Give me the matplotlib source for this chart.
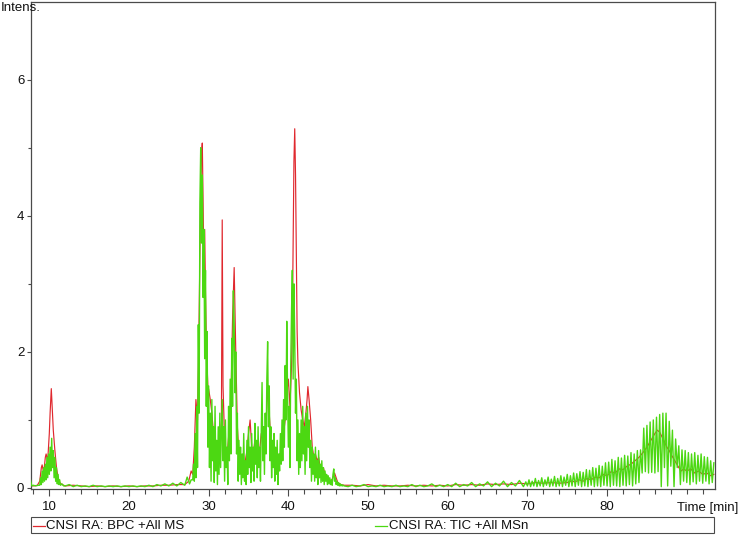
import matplotlib
matplotlib.use("Agg")
import matplotlib.pyplot as plt
from matplotlib.patches import Rectangle
from matplotlib.lines import Line2D
from matplotlib.ticker import FixedLocator

plt.rcParams['font.family'] = ['Liberation Sans', 'DejaVu Sans']

# ---------------- data ----------------
series_labels = ["CNSI RA: BPC +All MS", "CNSI RA: TIC +All MSn"]
x_ticks = [10, 20, 30, 40, 50, 60, 70, 80]
y_ticks = [0, 2, 4, 6]
x_label = "Time [min]"
y_label = "Intens."

# BPC trace (red)
red_time = [
    7.6, 8.0, 8.5, 8.8, 9.0, 9.1, 9.3, 9.5, 9.6, 9.8,
    10.0, 10.1, 10.25, 10.4, 10.5, 10.7, 10.9, 11.1, 11.3, 11.6,
    12, 13, 14, 15, 16, 17, 18, 19, 20, 21,
    22, 23, 24, 25, 26, 27, 27.5, 27.8,
    28.0, 28.2, 28.4, 28.6, 28.8, 29.0, 29.1, 29.2, 29.3, 29.4,
    29.5, 29.6, 29.7, 29.8, 29.9, 30.0, 30.2, 30.4, 30.6, 30.8,
    31.0, 31.2, 31.4, 31.6, 31.7, 31.8, 32.0, 32.2, 32.4, 32.6,
    32.8, 33.0, 33.2, 33.3, 33.4, 33.6, 33.8, 34.0, 34.2, 34.4,
    34.6, 34.8, 35.0, 35.2, 35.4, 35.6, 35.8, 36.0, 36.2, 36.4,
    36.6, 36.8, 37.0, 37.2, 37.4, 37.6, 37.8, 38.0, 38.2, 38.4,
    38.6, 38.8, 39.0, 39.2, 39.4, 39.6, 39.8, 40.0, 40.2, 40.4,
    40.5, 40.6, 40.7, 40.8, 40.9, 41.0, 41.1, 41.2, 41.4, 41.6,
    41.8, 42.0, 42.2, 42.35, 42.45, 42.6, 42.8, 43.0, 43.2, 43.4,
    43.6, 43.8, 44.0, 44.2, 44.4, 44.6, 44.8, 45.0, 45.4, 45.8,
    46.2, 46.6, 47.0,
    48, 49, 50, 51, 52, 53, 54, 55, 56, 57,
    58, 59, 60, 61, 62, 63, 64, 65, 66, 67,
    68, 69, 70, 71, 72, 73, 74,
    75.0, 75.5, 76.0, 76.5, 77.0, 77.5, 78.0, 78.5, 79.0, 79.5,
    80.0, 80.5, 81.0, 81.5, 82.0, 82.5, 83.0, 83.5, 84.0, 84.5,
    85.0, 85.5, 86.0,
    86.3, 86.6, 86.9, 87.2, 87.5, 87.8, 88.1, 88.4, 88.7, 89.0, 89.3, 89.6,
    90.0, 90.5, 91.0, 91.5, 92.0, 92.5, 93.0, 93.4,
]
red_intensity = [
    0.04, 0.03, 0.04, 0.10, 0.30, 0.34, 0.22, 0.45, 0.50, 0.40,
    0.80, 1.10, 1.46, 1.10, 0.85, 0.55, 0.30, 0.15, 0.08, 0.05,
    0.03, 0.04, 0.03, 0.02, 0.03, 0.02, 0.03, 0.02, 0.03, 0.02,
    0.03, 0.03, 0.04, 0.04, 0.05, 0.05, 0.10, 0.25,
    0.20, 0.60, 1.30, 1.00, 2.50, 4.40, 4.90, 5.07, 4.20, 3.20,
    3.80, 2.90, 2.20, 1.80, 1.50, 1.45, 1.30, 1.10, 0.80, 0.60,
    0.40, 0.30, 0.50, 1.00, 3.94, 1.50, 0.70, 0.40, 0.60, 0.90,
    1.30, 2.50, 3.24, 2.60, 2.00, 0.90, 0.50, 0.30, 0.35, 0.25,
    0.40, 0.55, 0.80, 1.00, 0.60, 0.50, 0.70, 0.60, 0.40, 0.55,
    0.80, 0.70, 0.60, 0.90, 1.50, 1.10, 0.70, 0.40, 0.35, 0.30,
    0.25, 0.35, 0.45, 0.60, 0.80, 1.00, 1.40, 1.60, 1.20, 1.80,
    2.40, 3.60, 4.80, 5.28, 4.60, 3.40, 2.30, 1.84, 1.40, 1.15,
    1.00, 0.90, 1.10, 1.30, 1.49, 1.30, 1.00, 0.60, 0.45, 0.50,
    0.40, 0.45, 0.30, 0.25, 0.30, 0.20, 0.15, 0.12, 0.10, 0.22,
    0.08, 0.05, 0.04,
    0.04, 0.03, 0.05, 0.03, 0.04, 0.03, 0.03, 0.04, 0.03, 0.04,
    0.03, 0.04, 0.03, 0.05, 0.04, 0.05, 0.04, 0.06, 0.05, 0.06,
    0.05, 0.07, 0.06, 0.08, 0.07, 0.08, 0.07,
    0.08, 0.10, 0.09, 0.12, 0.10, 0.14, 0.12, 0.16, 0.15, 0.20,
    0.18, 0.24, 0.22, 0.28, 0.27, 0.32, 0.35, 0.40, 0.45, 0.52,
    0.60, 0.70, 0.80,
    0.85, 0.82, 0.75, 0.68, 0.60, 0.55, 0.48, 0.42, 0.36, 0.30, 0.25, 0.28,
    0.25, 0.28, 0.22, 0.25, 0.20, 0.22, 0.18, 0.20,
]

# TIC trace (green)
green_time = [
    7.6, 7.8, 8.0, 8.3, 8.6, 8.8, 8.9, 9.0, 9.1, 9.2,
    9.3, 9.4, 9.5, 9.6, 9.7, 9.8, 9.9, 10.0, 10.1, 10.2,
    10.3, 10.4, 10.5, 10.6, 10.7, 10.8, 10.9, 11.0, 11.1, 11.2,
    11.3, 11.4, 11.6, 11.8,
    12.0, 12.5, 13.0, 13.5, 14.0, 14.5, 15.0, 15.5, 16.0, 16.5,
    17.0, 17.5, 18.0, 18.5, 19.0, 19.5, 20.0, 20.5, 21.0, 21.5,
    22.0, 22.5, 23.0, 23.5, 24.0, 24.5, 25.0, 25.5, 26.0, 26.5,
    27.0, 27.3, 27.6, 27.8,
    28.0, 28.1, 28.2, 28.3, 28.4, 28.5, 28.6, 28.7, 28.8, 28.9,
    29.0, 29.1, 29.2, 29.3, 29.4, 29.5, 29.6, 29.7, 29.8, 29.9,
    30.0, 30.1, 30.2, 30.3, 30.4, 30.5, 30.6, 30.7, 30.8, 30.9,
    31.0, 31.1, 31.2, 31.3, 31.4, 31.5, 31.6, 31.7, 31.8, 31.9,
    32.0, 32.1, 32.2, 32.3, 32.4, 32.5, 32.6, 32.7, 32.8, 32.9,
    33.0, 33.1, 33.2, 33.3, 33.4, 33.5, 33.6, 33.7, 33.8, 33.9,
    34.0, 34.1, 34.2, 34.3, 34.4, 34.5, 34.6, 34.7, 34.8, 34.9,
    35.0, 35.1, 35.2, 35.3, 35.4, 35.5, 35.6, 35.7, 35.8, 35.9,
    36.0, 36.1, 36.2, 36.3, 36.4, 36.5, 36.6, 36.7, 36.8, 36.9,
    37.0, 37.1, 37.2, 37.3, 37.4, 37.5, 37.6, 37.7, 37.8, 37.9,
    38.0, 38.1, 38.2, 38.3, 38.4, 38.5, 38.6, 38.7, 38.8, 38.9,
    39.0, 39.1, 39.2, 39.3, 39.4, 39.5, 39.6, 39.7, 39.8, 39.9,
    40.0, 40.1, 40.2, 40.3, 40.4, 40.5, 40.6, 40.7, 40.8, 40.9,
    41.0, 41.1, 41.2, 41.3, 41.4, 41.5, 41.6, 41.7, 41.8, 41.9,
    42.0, 42.1, 42.2, 42.3, 42.4, 42.5, 42.6, 42.7, 42.8, 42.9,
    43.0, 43.1, 43.2, 43.3, 43.4, 43.5, 43.6, 43.7, 43.8, 43.9,
    44.0, 44.1, 44.2, 44.3, 44.4, 44.5, 44.6, 44.7, 44.8, 44.9,
    45.0, 45.1, 45.2, 45.3, 45.4, 45.5, 45.6, 45.7, 45.8, 45.9,
    46.0, 46.1, 46.2, 46.3, 46.4, 46.5, 46.6, 46.7, 46.8, 46.9,
    47.0,
    47.5, 48.0, 48.5, 49.0, 49.5, 50.0, 50.5, 51.0, 51.5, 52.0,
    52.5, 53.0, 53.5, 54.0, 54.5, 55.0, 55.5, 56.0, 56.5, 57.0,
    57.5, 58.0, 58.5, 59.0, 59.5, 60.0, 60.5, 61.0, 61.5, 62.0,
    62.5, 63.0, 63.5, 64.0, 64.5, 65.0, 65.5, 66.0, 66.5, 67.0,
    67.5, 68.0, 68.5, 69.0, 69.5, 69.8,
    70.0, 70.2, 70.4, 70.6, 70.8, 71.0, 71.2, 71.4, 71.6, 71.8,
    72.0, 72.2, 72.4, 72.6, 72.8, 73.0, 73.2, 73.4, 73.6, 73.8,
    74.0, 74.2, 74.4, 74.6, 74.8, 75.0, 75.2, 75.4, 75.6, 75.8,
    76.0, 76.2, 76.4, 76.6, 76.8, 77.0, 77.2, 77.4, 77.6, 77.8,
    78.0, 78.2, 78.4, 78.6, 78.8, 79.0, 79.2, 79.4, 79.6, 79.8,
    80.0, 80.2, 80.4, 80.6, 80.8, 81.0, 81.2, 81.4, 81.6, 81.8,
    82.0, 82.2, 82.4, 82.6, 82.8, 83.0, 83.2, 83.4, 83.6, 83.8,
    84.0, 84.2, 84.4, 84.6, 84.8, 85.0, 85.2, 85.4, 85.6, 85.8,
    86.0, 86.2, 86.4, 86.6, 86.8, 87.0, 87.2, 87.4, 87.6, 87.8,
    88.0, 88.2, 88.4, 88.6, 88.8, 89.0, 89.2, 89.4, 89.6, 89.8,
    90.0, 90.2, 90.4, 90.6, 90.8, 91.0, 91.2, 91.4, 91.6, 91.8,
    92.0, 92.2, 92.4, 92.6, 92.8, 93.0, 93.2, 93.4,
]
green_intensity = [
    0.14, 0.03, 0.04, 0.03, 0.04, 0.04, 0.15, 0.05, 0.25, 0.08,
    0.30, 0.10, 0.35, 0.12, 0.45, 0.15, 0.50, 0.20, 0.60, 0.25,
    0.73, 0.30, 0.55, 0.15, 0.45, 0.10, 0.30, 0.06, 0.20, 0.05,
    0.12, 0.04, 0.06, 0.03,
    0.03, 0.05, 0.02, 0.04, 0.02, 0.03, 0.02, 0.04, 0.02, 0.03,
    0.02, 0.03, 0.02, 0.03, 0.02, 0.03, 0.02, 0.03, 0.02, 0.03,
    0.02, 0.04, 0.02, 0.05, 0.03, 0.06, 0.03, 0.07, 0.03, 0.08,
    0.04, 0.16, 0.06, 0.12,
    0.12, 0.35, 0.10, 0.80, 0.15, 1.20, 0.30, 2.40, 1.10, 4.20,
    5.00, 3.60, 4.60, 2.80, 3.80, 1.90, 3.20, 1.20, 2.30, 0.60,
    1.50, 0.30, 1.10, 0.10, 1.30, 0.40, 0.90, 0.08, 1.20, 0.25,
    0.70, 0.05, 0.90, 0.20, 1.10, 0.30, 0.80, 1.30, 0.40, 0.90,
    0.10, 1.00, 0.30, 0.60, 0.05, 1.20, 0.40, 1.60, 0.50, 2.20,
    1.20, 2.90, 2.40, 1.40, 2.00, 0.50, 1.10, 0.10, 0.70, 0.20,
    0.60, 0.05, 0.50, 0.15, 0.80, 0.10, 0.40, 0.05, 0.70, 0.20,
    0.90, 0.30, 0.60, 0.08, 0.80, 0.25, 0.60, 0.10, 0.95, 0.35,
    0.70, 0.15, 0.90, 0.30, 0.60, 0.10, 0.80, 1.55, 0.40, 0.90,
    0.20, 1.10, 0.50, 1.60, 2.15, 0.90, 1.50, 0.40, 0.90, 0.15,
    0.70, 0.30, 0.80, 0.10, 0.60, 0.20, 0.70, 0.05, 0.50, 0.25,
    0.80, 0.35, 1.00, 0.40, 1.30, 0.60, 1.80, 1.00, 2.45, 1.40,
    0.60, 1.20, 0.30, 1.80, 2.60, 3.20, 1.60, 3.00, 2.20, 1.10,
    1.60, 0.40, 1.00, 0.20, 0.80, 0.30, 1.00, 0.40, 1.20, 0.50,
    0.90, 0.20, 1.10, 0.40, 1.20, 0.60, 1.00, 0.30, 0.70, 0.10,
    0.60, 0.20, 0.50, 0.10, 0.60, 0.15, 0.40, 0.05, 0.55, 0.15,
    0.35, 0.08, 0.40, 0.10, 0.30, 0.05, 0.25, 0.10, 0.20, 0.05,
    0.18, 0.06, 0.15, 0.05, 0.12, 0.04, 0.20, 0.28, 0.10, 0.15,
    0.05, 0.10, 0.04, 0.08, 0.03, 0.06, 0.03, 0.05, 0.03, 0.04,
    0.03,
    0.02, 0.04, 0.02, 0.03, 0.05, 0.02, 0.03, 0.02, 0.04, 0.02,
    0.03, 0.02, 0.04, 0.02, 0.03, 0.02, 0.05, 0.02, 0.04, 0.02,
    0.03, 0.06, 0.02, 0.04, 0.02, 0.05, 0.02, 0.07, 0.02, 0.05,
    0.03, 0.08, 0.02, 0.06, 0.03, 0.09, 0.02, 0.07, 0.03, 0.10,
    0.02, 0.08, 0.03, 0.11, 0.02, 0.09,
    0.03, 0.12, 0.02, 0.10, 0.03, 0.14, 0.02, 0.11, 0.03, 0.15,
    0.02, 0.12, 0.04, 0.16, 0.02, 0.13, 0.03, 0.17, 0.02, 0.14,
    0.03, 0.18, 0.02, 0.16, 0.04, 0.20, 0.02, 0.18, 0.03, 0.22,
    0.02, 0.21, 0.04, 0.24, 0.02, 0.23, 0.03, 0.27, 0.02, 0.26,
    0.04, 0.30, 0.02, 0.29, 0.03, 0.33, 0.02, 0.32, 0.04, 0.37,
    0.03, 0.38, 0.02, 0.42, 0.04, 0.40, 0.03, 0.45, 0.02, 0.44,
    0.04, 0.48, 0.03, 0.47, 0.05, 0.52, 0.03, 0.50, 0.06, 0.55,
    0.08, 0.56, 0.22, 0.88, 0.24, 0.92, 0.22, 0.97, 0.23, 1.00,
    0.22, 1.04, 0.24, 1.08, 0.02, 1.10, 0.30, 1.10, 0.03, 0.98,
    0.32, 0.85, 0.02, 0.72, 0.30, 0.62, 0.05, 0.56, 0.10, 0.55,
    0.08, 0.52, 0.05, 0.50, 0.09, 0.52, 0.06, 0.48, 0.10, 0.50,
    0.07, 0.46, 0.10, 0.45, 0.06, 0.40, 0.08, 0.37,
]

# ---------------- figure ----------------
W, H = 739, 535
RED = "#E0282E"
GREEN = "#4CD812"
AXC = "#4a4a4a"

fig = plt.figure(figsize=(W / 100, H / 100), dpi=100)
ax = fig.add_axes([30.5 / W, (H - 489) / H, (714.5 - 30.5) / W, (489 - 1.5) / H])

ax.plot(red_time, red_intensity, color=RED, lw=0.85, zorder=2)
ax.plot(green_time, green_intensity, color=GREEN, lw=1.0, zorder=3)

ax.set_xlim(7.64, 93.48)
ax.set_ylim(-0.015, 7.15)

ax.set_xticks(x_ticks)
ax.set_yticks(y_ticks)
ax.xaxis.set_minor_locator(FixedLocator(list(range(8, 94, 2))))
ax.yaxis.set_minor_locator(FixedLocator([1, 3, 5]))

for s in ax.spines.values():
    s.set_color(AXC)
    s.set_linewidth(0.9)

ax.tick_params(axis="x", which="major", length=5, width=0.8, color=AXC,
               labelsize=9.5, pad=4, labelcolor="#111111")
ax.tick_params(axis="x", which="minor", length=3.5, width=0.8, color=AXC)
ax.tick_params(axis="y", which="major", length=3, width=0.8, color=AXC,
               labelsize=9.5, pad=1.5, labelcolor="#111111")
ax.tick_params(axis="y", which="minor", length=2.5, width=0.8, color=AXC)

# axis titles
fig.text(1 / W, 1 - 11 / H, y_label, fontsize=9.5, ha="left", va="baseline",
         color="#111111")
fig.text(738 / W, 1 - 511 / H, x_label, fontsize=9.5, ha="right",
         va="baseline", color="#111111")

# legend box
fig.add_artist(Rectangle((30.5 / W, 1 - 533 / H), (713.5 - 30.5) / W, 16 / H,
                         transform=fig.transFigure, fill=False,
                         edgecolor=AXC, lw=0.8))
ly = 1 - 526 / H
fig.add_artist(Line2D([32.5 / W, 45 / W], [ly, ly], transform=fig.transFigure,
                      color=RED, lw=0.9))
fig.text(46.5 / W, ly, series_labels[0], fontsize=9.5, ha="left",
         va="center", color="#111111")
fig.add_artist(Line2D([375 / W, 387 / W], [ly, ly], transform=fig.transFigure,
                      color=GREEN, lw=0.9))
fig.text(389 / W, ly, series_labels[1], fontsize=9.5, ha="left",
         va="center", color="#111111")

fig.savefig("out.png", dpi=100)
